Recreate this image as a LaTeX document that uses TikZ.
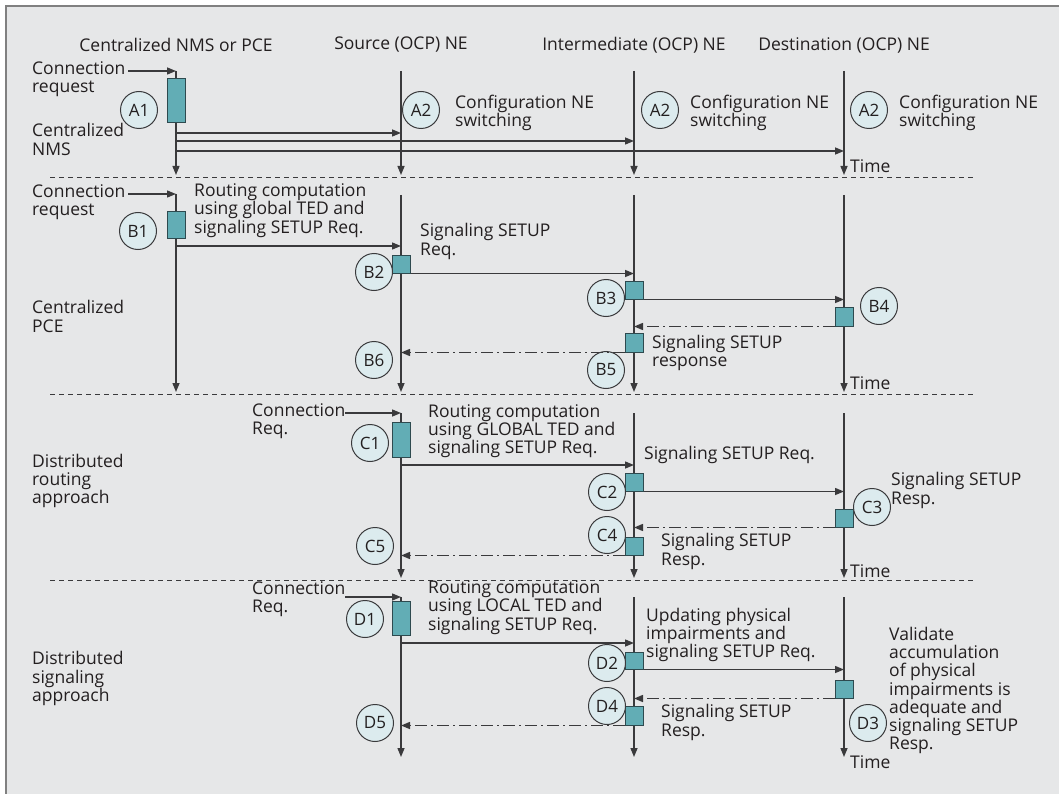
\documentclass[tikz,border=0pt]{standalone}
\usepackage{fontspec}
\setmainfont{Open Sans}
\usetikzlibrary{arrows.meta}
\definecolor{bg}{HTML}{E6E7E8}
\definecolor{frame}{HTML}{808080}
\definecolor{ln}{HTML}{3A3A3C}
\definecolor{txt}{HTML}{231F20}
\definecolor{cfill}{HTML}{DCEBEE}
\definecolor{bfill}{HTML}{62ADB5}
\definecolor{bdraw}{HTML}{2E4A4F}
\tikzset{
  life/.style={draw=ln, line width=1.4pt},
  arr/.style={life, -{Triangle[length=9pt,width=7pt]}},
  resp/.style={arr, dash pattern=on 12pt off 4pt on 2pt off 4pt},
  sep/.style={draw=ln, line width=0.9pt, dash pattern=on 5pt off 4pt},
  lbl/.style={align=left, anchor=west, inner sep=0pt, text=txt, font=\fontsize{17.5}{18.3}\selectfont},
  hdr/.style={anchor=center, inner sep=0pt, text=txt, font=\fontsize{17.5}{18.3}\selectfont},
  circ/.style={circle, draw=ln, fill=cfill, minimum size=37pt, inner sep=0pt, line width=1pt, text=txt, font=\fontsize{17}{18}\selectfont},
  actbox/.style={draw=bdraw, fill=bfill, line width=1pt, inner sep=0pt, minimum width=18pt}
}
\begin{document}
\begin{tikzpicture}[x=1pt,y=-1pt]
\useasboundingbox (0,0) rectangle (1059,794);
\fill[bg] (6,6) rectangle (1059,794);
\draw[frame, line width=2pt] (6,794) -- (6,6) -- (1059,6);

% headers
\node[hdr] (hN) at (176,45) {Centralized NMS or PCE};
\node[hdr] (hS) at (401,45) {Source (OCP) NE};
\node[hdr] (hI) at (634,45) {Intermediate (OCP) NE};
\node[hdr] (hD) at (844,45) {Destination (OCP) NE};

% ================= Section A
\coordinate (nA0) at (176,71); \coordinate (nA1) at (176,175);
\coordinate (sA0) at (401,71); \coordinate (sA1) at (401,175);
\coordinate (iA0) at (634,71); \coordinate (iA1) at (634,175);
\coordinate (dA0) at (844,71); \coordinate (dA1) at (844,175);
\node[lbl] (connA) at (32,79) {Connection\\request};
\coordinate (connAs) at (128,71);
\draw[arr] (connAs) -- (nA0);
\draw[arr] (nA0) -- (nA1);
\draw[arr] (sA0) -- (sA1);
\draw[arr] (iA0) -- (iA1);
\draw[arr] (dA0) -- (dA1);
\node[actbox, minimum height=44pt] (a1) at (176,101) {};
\node[circ] (ca1) at (139,110) {A1};
\node[lbl] (cnms) at (32,139.5) {Centralized\\NMS};
\coordinate (nA2) at (176,133); \coordinate (nA3) at (176,141); \coordinate (nA4) at (176,151);
\draw[arr] (nA2) -- (nA2 -| sA0);
\draw[arr] (nA3) -- (nA3 -| iA0);
\draw[arr] (nA4) -- (nA4 -| dA0);
\node[circ] (ca2s) at (421,110) {A2};
\node[circ] (ca2i) at (660,110) {A2};
\node[circ] (ca2d) at (869,110) {A2};
\node[lbl] (cfgS) at (455,113) {Configuration NE\\switching};
\node[lbl] (cfgI) at (690,113) {Configuration NE\\switching};
\node[lbl] (cfgD) at (899,113) {Configuration NE\\switching};
\node[lbl] (timeA) at (850,166) {Time};
\draw[sep] (50,177) -- (975,177);

% ================= Section B
\coordinate (nB0) at (176,194); \coordinate (nB1) at (176,392);
\coordinate (sB0) at (401,195); \coordinate (sB1) at (401,392);
\coordinate (iB0) at (634,195); \coordinate (iB1) at (634,392);
\coordinate (dB0) at (844,195); \coordinate (dB1) at (844,392);
\node[lbl] (connB) at (32,202) {Connection\\request};
\coordinate (connBs) at (128,194);
\draw[arr] (connBs) -- (nB0);
\draw[arr] (nB0) -- (nB1);
\draw[arr] (sB0) -- (sB1);
\draw[arr] (iB0) -- (iB1);
\draw[arr] (dB0) -- (dB1);
\node[actbox, minimum height=27pt] (b1) at (176,225.5) {};
\node[circ] (cb1) at (138,231) {B1};
\node[lbl] (routeB) at (194,210.5) {Routing computation\\using global TED and\\signaling SETUP Req.};
\coordinate (nB2) at (176,246);
\draw[arr] (nB2) -- (nB2 -| sB0);
\node[actbox, minimum height=18pt] (b2) at (401,264) {};
\node[circ] (cb2) at (374,272) {B2};
\node[lbl] (sigB) at (420,241.5) {Signaling SETUP\\Req.};
\draw[arr] (b2.south east) -- (b2.south east -| iB0);
\node[actbox, minimum height=18pt] (b3) at (634,290) {};
\node[circ] (cb3) at (606,298) {B3};
\draw[arr] (b3.south east) -- (b3.south east -| dB0);
\node[actbox, minimum height=19pt] (b4) at (844,316.5) {};
\node[circ] (cb4) at (879,306) {B4};
\draw[resp] (b4.south west) -- (b4.south west -| iB0);
\node[actbox, minimum height=19pt] (b5) at (634,342.5) {};
\node[circ] (cb5) at (606,370) {B5};
\draw[resp] (b5.south west) -- (b5.south west -| sB0);
\node[circ] (cb6) at (374,360) {B6};
\node[lbl] (respB) at (652,353) {Signaling SETUP\\response};
\node[lbl] (cpce) at (32,316.5) {Centralized\\PCE};
\node[lbl] (timeB) at (850,383) {Time};
\draw[sep] (50,394) -- (975,394);

% ================= Section C
\coordinate (sC0) at (401,413); \coordinate (sC1) at (401,578);
\coordinate (iC0) at (634,413); \coordinate (iC1) at (634,578);
\coordinate (dC0) at (844,413); \coordinate (dC1) at (844,578);
\node[lbl] (connC) at (252,421) {Connection\\Req.};
\coordinate (connCs) at (345,413);
\draw[arr] (connCs) -- (sC0);
\draw[arr] (sC0) -- (sC1);
\draw[arr] (iC0) -- (iC1);
\draw[arr] (dC0) -- (dC1);
\node[actbox, minimum height=35pt] (c1) at (401,439.5) {};
\node[circ] (cc1) at (370,443) {C1};
\node[lbl] (routeC) at (428,431) {Routing computation\\using GLOBAL TED and\\signaling SETUP Req.};
\coordinate (sC2) at (401,465);
\draw[arr] (sC2) -- (sC2 -| iC0);
\node[actbox, minimum height=18pt] (c2) at (634,482) {};
\node[circ] (cc2) at (607,492) {C2};
\node[lbl] (sigC) at (644,455) {Signaling SETUP Req.};
\draw[arr] (c2.south east) -- (c2.south east -| dC0);
\node[actbox, minimum height=18pt] (c3) at (844,518) {};
\node[circ] (cc3) at (872,507) {C3};
\node[lbl] (respC3) at (891,490.5) {Signaling SETUP\\Resp.};
\draw[resp] (c3.south west) -- (c3.south west -| iC0);
\node[actbox, minimum height=18pt] (c4) at (634,546) {};
\node[circ] (cc4) at (607,535) {C4};
\draw[resp] (c4.south west) -- (c4.south west -| sC0);
\node[circ] (cc5) at (375,546) {C5};
\node[lbl] (respC) at (661,551.5) {Signaling SETUP\\Resp.};
\node[lbl] (droute) at (32,481) {Distributed\\routing\\approach};
\node[lbl] (timeC) at (850,571) {Time};
\draw[sep] (50,580) -- (975,580);

% ================= Section D
\coordinate (sD0) at (401,597); \coordinate (sD1) at (401,757);
\coordinate (iD0) at (634,597); \coordinate (iD1) at (634,757);
\coordinate (dD0) at (844,597); \coordinate (dD1) at (844,757);
\node[lbl] (connD) at (252,599) {Connection\\Req.};
\coordinate (connDs) at (345,597);
\draw[arr] (connDs) -- (sD0);
\draw[arr] (sD0) -- (sD1);
\draw[arr] (iD0) -- (iD1);
\draw[arr] (dD0) -- (dD1);
\node[actbox, minimum height=34pt] (d1) at (401,618) {};
\node[circ] (cd1) at (365,619) {D1};
\node[lbl] (routeD) at (428,607.5) {Routing computation\\using LOCAL TED and\\signaling SETUP Req.};
\coordinate (sD2) at (401,643);
\draw[arr] (sD2) -- (sD2 -| iD0);
\node[actbox, minimum height=17pt] (d2) at (634,660.5) {};
\node[circ] (cd2) at (607,663) {D2};
\node[lbl] (updD) at (646,635) {Updating physical\\impairments and\\signaling SETUP Req.};
\draw[arr] (d2.south east) -- (d2.south east -| dD0);
\node[actbox, minimum height=18pt] (d3b) at (844,689) {};
\draw[resp] (d3b.south west) -- (d3b.south west -| iD0);
\node[actbox, minimum height=19pt] (d4) at (634,715.5) {};
\node[circ] (cd4) at (607,706) {D4};
\draw[resp] (d4.south west) -- (d4.south west -| sD0);
\node[circ] (cd5) at (375,723) {D5};
\node[lbl] (respD) at (661,722.5) {Signaling SETUP\\Resp.};
\node[circ] (cd3) at (868,723) {D3};
\node[lbl] (valD) at (889,690.5) {Validate\\accumulation\\of physical\\impairments is\\adequate and\\signaling SETUP\\Resp.};
\node[lbl] (dsig) at (32,678.5) {Distributed\\signaling\\approach};
\node[lbl] (timeD) at (850,762) {Time};
\end{tikzpicture}
\end{document}
